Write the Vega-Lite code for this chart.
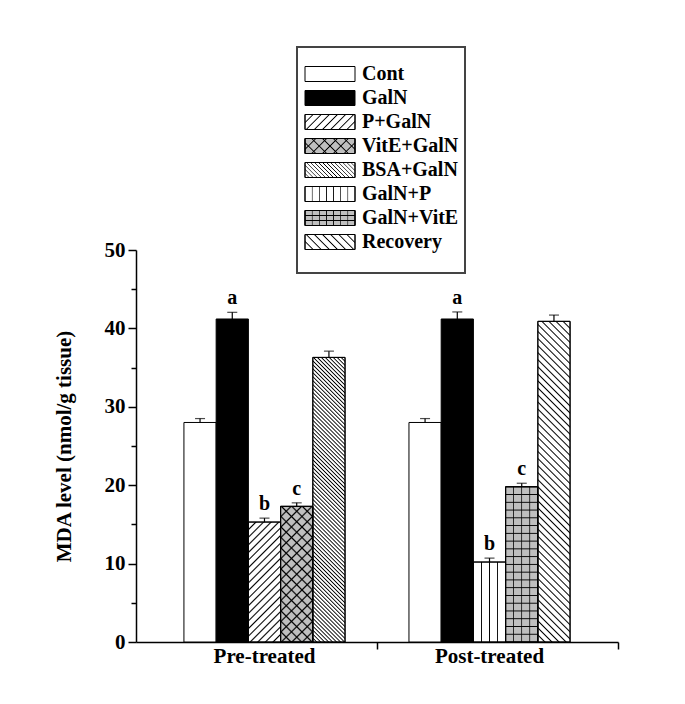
{
"$schema":"https://vega.github.io/schema/vega-lite/v6.json",
"width":482,"height":392,
"autosize":{"type":"none"},
"padding":{"left":136,"top":250,"right":67,"bottom":62},
"background":"white",
"config":{"view":{"stroke":null},"font":"Liberation Serif"},
"datasets":{
"bars":[
{"group":"Pre-treated","slot":1,"t":"Cont","v":28.0,"hi":28.5,"sig":""},
{"group":"Pre-treated","slot":2,"t":"GalN","v":41.2,"hi":42.05,"sig":"a"},
{"group":"Pre-treated","slot":3,"t":"P+GalN","v":15.3,"hi":15.8,"sig":"b"},
{"group":"Pre-treated","slot":4,"t":"VitE+GalN","v":17.3,"hi":17.75,"sig":"c"},
{"group":"Pre-treated","slot":5,"t":"BSA+GalN","v":36.3,"hi":37.1,"sig":""},
{"group":"Post-treated","slot":1,"t":"Cont","v":28.0,"hi":28.5,"sig":""},
{"group":"Post-treated","slot":2,"t":"GalN","v":41.2,"hi":42.1,"sig":"a"},
{"group":"Post-treated","slot":3,"t":"GalN+P","v":10.2,"hi":10.7,"sig":"b"},
{"group":"Post-treated","slot":4,"t":"GalN+VitE","v":19.8,"hi":20.25,"sig":"c"},
{"group":"Post-treated","slot":5,"t":"Recovery","v":40.9,"hi":41.7,"sig":""}
],
"leg":[{"t":"Cont"},{"t":"GalN"},{"t":"P+GalN"},{"t":"VitE+GalN"},{"t":"BSA+GalN"},{"t":"GalN+P"},{"t":"GalN+VitE"},{"t":"Recovery"}]
},
"layer":[
{
"data":{"name":"bars"},
"encoding":{
"x":{"field":"group","type":"nominal","sort":["Pre-treated","Post-treated"],"scale":{"paddingInner":0.284,"paddingOuter":0.213},
"axis":{"title":null,"ticks":false,"labelAngle":0,"labelFont":"Liberation Serif","labelFontSize":21,"labelFontWeight":"bold","labelColor":"black","labelPadding":3,"domainColor":"black","domainWidth":1.5}},
"xOffset":{"field":"slot","type":"ordinal","scale":{"paddingInner":0,"paddingOuter":0}},
"y":{"field":"v","type":"quantitative","scale":{"domain":[0,50],"nice":false},
"axis":{"values":[0,5,10,15,20,25,30,35,40,45,50],"labelExpr":"datum.value % 10 === 0 ? datum.label : ''","tickSize":{"condition":{"test":"datum.value % 10 === 0","value":8},"value":5},"grid":false,"domainColor":"black","domainWidth":1.5,"tickColor":"black","tickWidth":1.5,"labelFont":"Liberation Serif","labelFontSize":21,"labelFontWeight":"bold","labelColor":"black","labelPadding":3,"title":"MDA level (nmol/g tissue)","titleFont":"Liberation Serif","titleFontSize":21,"titleFontWeight":"bold","titleColor":"black","titlePadding":30}}
},
"layer":[
{"mark":{"type":"bar","stroke":"black","strokeWidth":1},
"encoding":{"fill":{"field":"t","type":"nominal","scale":{"domain":["Cont","GalN","P+GalN","VitE+GalN","BSA+GalN","GalN+P","GalN+VitE","Recovery"],"range":["#ffffff","#000000","#ffffff","#bfbfbf","#ffffff","#ffffff","#bfbfbf","#ffffff"]},"legend":null}}},
{"transform":[{"filter":"datum.t==='P+GalN'"}],
"mark":{"type":"bar","stroke":"black","strokeWidth":1,"fill":{"gradient":"linear","x1":0,"y1":0,"x2":0.3183,"y2":1.1834,"stops":[
{"offset":0.04,"color":"#0000"},{"offset":0.05,"color":"#000"},{"offset":0.06,"color":"#0000"},
{"offset":0.09,"color":"#0000"},{"offset":0.1,"color":"#000"},{"offset":0.11,"color":"#0000"},
{"offset":0.14,"color":"#0000"},{"offset":0.15,"color":"#000"},{"offset":0.16,"color":"#0000"},
{"offset":0.19,"color":"#0000"},{"offset":0.2,"color":"#000"},{"offset":0.21,"color":"#0000"},
{"offset":0.24,"color":"#0000"},{"offset":0.25,"color":"#000"},{"offset":0.26,"color":"#0000"},
{"offset":0.29,"color":"#0000"},{"offset":0.3,"color":"#000"},{"offset":0.31,"color":"#0000"},
{"offset":0.34,"color":"#0000"},{"offset":0.35,"color":"#000"},{"offset":0.36,"color":"#0000"},
{"offset":0.39,"color":"#0000"},{"offset":0.4,"color":"#000"},{"offset":0.41,"color":"#0000"},
{"offset":0.44,"color":"#0000"},{"offset":0.45,"color":"#000"},{"offset":0.46,"color":"#0000"},
{"offset":0.49,"color":"#0000"},{"offset":0.5,"color":"#000"},{"offset":0.51,"color":"#0000"},
{"offset":0.54,"color":"#0000"},{"offset":0.55,"color":"#000"},{"offset":0.56,"color":"#0000"},
{"offset":0.59,"color":"#0000"},{"offset":0.6,"color":"#000"},{"offset":0.61,"color":"#0000"},
{"offset":0.64,"color":"#0000"},{"offset":0.65,"color":"#000"},{"offset":0.66,"color":"#0000"},
{"offset":0.69,"color":"#0000"},{"offset":0.7,"color":"#000"},{"offset":0.71,"color":"#0000"},
{"offset":0.74,"color":"#0000"},{"offset":0.75,"color":"#000"},{"offset":0.76,"color":"#0000"},
{"offset":0.79,"color":"#0000"},{"offset":0.8,"color":"#000"},{"offset":0.81,"color":"#0000"},
{"offset":0.84,"color":"#0000"},{"offset":0.85,"color":"#000"},{"offset":0.86,"color":"#0000"},
{"offset":0.89,"color":"#0000"},{"offset":0.9,"color":"#000"},{"offset":0.91,"color":"#0000"},
{"offset":0.94,"color":"#0000"},{"offset":0.95,"color":"#000"},{"offset":0.96,"color":"#0000"}]}}},
{"transform":[{"filter":"datum.t==='VitE+GalN'"}],
"mark":{"type":"bar","stroke":"black","strokeWidth":1,"fill":{"gradient":"linear","x1":0,"y1":0,"x2":0.2782,"y2":1.1715,"stops":[
{"offset":0.0525,"color":"#0000"},{"offset":0.0625,"color":"#000"},{"offset":0.0725,"color":"#0000"},
{"offset":0.115,"color":"#0000"},{"offset":0.125,"color":"#000"},{"offset":0.135,"color":"#0000"},
{"offset":0.1775,"color":"#0000"},{"offset":0.1875,"color":"#000"},{"offset":0.1975,"color":"#0000"},
{"offset":0.24,"color":"#0000"},{"offset":0.25,"color":"#000"},{"offset":0.26,"color":"#0000"},
{"offset":0.3025,"color":"#0000"},{"offset":0.3125,"color":"#000"},{"offset":0.3225,"color":"#0000"},
{"offset":0.365,"color":"#0000"},{"offset":0.375,"color":"#000"},{"offset":0.385,"color":"#0000"},
{"offset":0.4275,"color":"#0000"},{"offset":0.4375,"color":"#000"},{"offset":0.4475,"color":"#0000"},
{"offset":0.49,"color":"#0000"},{"offset":0.5,"color":"#000"},{"offset":0.51,"color":"#0000"},
{"offset":0.5525,"color":"#0000"},{"offset":0.5625,"color":"#000"},{"offset":0.5725,"color":"#0000"},
{"offset":0.615,"color":"#0000"},{"offset":0.625,"color":"#000"},{"offset":0.635,"color":"#0000"},
{"offset":0.6775,"color":"#0000"},{"offset":0.6875,"color":"#000"},{"offset":0.6975,"color":"#0000"},
{"offset":0.74,"color":"#0000"},{"offset":0.75,"color":"#000"},{"offset":0.76,"color":"#0000"},
{"offset":0.8025,"color":"#0000"},{"offset":0.8125,"color":"#000"},{"offset":0.8225,"color":"#0000"},
{"offset":0.865,"color":"#0000"},{"offset":0.875,"color":"#000"},{"offset":0.885,"color":"#0000"},
{"offset":0.9275,"color":"#0000"},{"offset":0.9375,"color":"#000"},{"offset":0.9475,"color":"#0000"}]}}},
{"transform":[{"filter":"datum.t==='VitE+GalN'"}],
"mark":{"type":"bar","stroke":"black","strokeWidth":1,"fill":{"gradient":"linear","x1":0,"y1":1,"x2":0.2782,"y2":-0.1715,"stops":[
{"offset":0.0525,"color":"#0000"},{"offset":0.0625,"color":"#000"},{"offset":0.0725,"color":"#0000"},
{"offset":0.115,"color":"#0000"},{"offset":0.125,"color":"#000"},{"offset":0.135,"color":"#0000"},
{"offset":0.1775,"color":"#0000"},{"offset":0.1875,"color":"#000"},{"offset":0.1975,"color":"#0000"},
{"offset":0.24,"color":"#0000"},{"offset":0.25,"color":"#000"},{"offset":0.26,"color":"#0000"},
{"offset":0.3025,"color":"#0000"},{"offset":0.3125,"color":"#000"},{"offset":0.3225,"color":"#0000"},
{"offset":0.365,"color":"#0000"},{"offset":0.375,"color":"#000"},{"offset":0.385,"color":"#0000"},
{"offset":0.4275,"color":"#0000"},{"offset":0.4375,"color":"#000"},{"offset":0.4475,"color":"#0000"},
{"offset":0.49,"color":"#0000"},{"offset":0.5,"color":"#000"},{"offset":0.51,"color":"#0000"},
{"offset":0.5525,"color":"#0000"},{"offset":0.5625,"color":"#000"},{"offset":0.5725,"color":"#0000"},
{"offset":0.615,"color":"#0000"},{"offset":0.625,"color":"#000"},{"offset":0.635,"color":"#0000"},
{"offset":0.6775,"color":"#0000"},{"offset":0.6875,"color":"#000"},{"offset":0.6975,"color":"#0000"},
{"offset":0.74,"color":"#0000"},{"offset":0.75,"color":"#000"},{"offset":0.76,"color":"#0000"},
{"offset":0.8025,"color":"#0000"},{"offset":0.8125,"color":"#000"},{"offset":0.8225,"color":"#0000"},
{"offset":0.865,"color":"#0000"},{"offset":0.875,"color":"#000"},{"offset":0.885,"color":"#0000"},
{"offset":0.9275,"color":"#0000"},{"offset":0.9375,"color":"#000"},{"offset":0.9475,"color":"#0000"}]}}},
{"transform":[{"filter":"datum.t==='BSA+GalN'"}],
"mark":{"type":"bar","stroke":"black","strokeWidth":1,"fill":{"gradient":"linear","x1":0,"y1":1,"x2":0.1245,"y2":-0.0992,"stops":[
{"offset":0.0085,"color":"#0000"},{"offset":0.0125,"color":"#000"},{"offset":0.0165,"color":"#0000"},
{"offset":0.021,"color":"#0000"},{"offset":0.025,"color":"#000"},{"offset":0.029,"color":"#0000"},
{"offset":0.0335,"color":"#0000"},{"offset":0.0375,"color":"#000"},{"offset":0.0415,"color":"#0000"},
{"offset":0.046,"color":"#0000"},{"offset":0.05,"color":"#000"},{"offset":0.054,"color":"#0000"},
{"offset":0.0585,"color":"#0000"},{"offset":0.0625,"color":"#000"},{"offset":0.0665,"color":"#0000"},
{"offset":0.071,"color":"#0000"},{"offset":0.075,"color":"#000"},{"offset":0.079,"color":"#0000"},
{"offset":0.0835,"color":"#0000"},{"offset":0.0875,"color":"#000"},{"offset":0.0915,"color":"#0000"},
{"offset":0.096,"color":"#0000"},{"offset":0.1,"color":"#000"},{"offset":0.104,"color":"#0000"},
{"offset":0.1085,"color":"#0000"},{"offset":0.1125,"color":"#000"},{"offset":0.1165,"color":"#0000"},
{"offset":0.121,"color":"#0000"},{"offset":0.125,"color":"#000"},{"offset":0.129,"color":"#0000"},
{"offset":0.1335,"color":"#0000"},{"offset":0.1375,"color":"#000"},{"offset":0.1415,"color":"#0000"},
{"offset":0.146,"color":"#0000"},{"offset":0.15,"color":"#000"},{"offset":0.154,"color":"#0000"},
{"offset":0.1585,"color":"#0000"},{"offset":0.1625,"color":"#000"},{"offset":0.1665,"color":"#0000"},
{"offset":0.171,"color":"#0000"},{"offset":0.175,"color":"#000"},{"offset":0.179,"color":"#0000"},
{"offset":0.1835,"color":"#0000"},{"offset":0.1875,"color":"#000"},{"offset":0.1915,"color":"#0000"},
{"offset":0.196,"color":"#0000"},{"offset":0.2,"color":"#000"},{"offset":0.204,"color":"#0000"},
{"offset":0.2085,"color":"#0000"},{"offset":0.2125,"color":"#000"},{"offset":0.2165,"color":"#0000"},
{"offset":0.221,"color":"#0000"},{"offset":0.225,"color":"#000"},{"offset":0.229,"color":"#0000"},
{"offset":0.2335,"color":"#0000"},{"offset":0.2375,"color":"#000"},{"offset":0.2415,"color":"#0000"},
{"offset":0.246,"color":"#0000"},{"offset":0.25,"color":"#000"},{"offset":0.254,"color":"#0000"},
{"offset":0.2585,"color":"#0000"},{"offset":0.2625,"color":"#000"},{"offset":0.2665,"color":"#0000"},
{"offset":0.271,"color":"#0000"},{"offset":0.275,"color":"#000"},{"offset":0.279,"color":"#0000"},
{"offset":0.2835,"color":"#0000"},{"offset":0.2875,"color":"#000"},{"offset":0.2915,"color":"#0000"},
{"offset":0.296,"color":"#0000"},{"offset":0.3,"color":"#000"},{"offset":0.304,"color":"#0000"},
{"offset":0.3085,"color":"#0000"},{"offset":0.3125,"color":"#000"},{"offset":0.3165,"color":"#0000"},
{"offset":0.321,"color":"#0000"},{"offset":0.325,"color":"#000"},{"offset":0.329,"color":"#0000"},
{"offset":0.3335,"color":"#0000"},{"offset":0.3375,"color":"#000"},{"offset":0.3415,"color":"#0000"},
{"offset":0.346,"color":"#0000"},{"offset":0.35,"color":"#000"},{"offset":0.354,"color":"#0000"},
{"offset":0.3585,"color":"#0000"},{"offset":0.3625,"color":"#000"},{"offset":0.3665,"color":"#0000"},
{"offset":0.371,"color":"#0000"},{"offset":0.375,"color":"#000"},{"offset":0.379,"color":"#0000"},
{"offset":0.3835,"color":"#0000"},{"offset":0.3875,"color":"#000"},{"offset":0.3915,"color":"#0000"},
{"offset":0.396,"color":"#0000"},{"offset":0.4,"color":"#000"},{"offset":0.404,"color":"#0000"},
{"offset":0.4085,"color":"#0000"},{"offset":0.4125,"color":"#000"},{"offset":0.4165,"color":"#0000"},
{"offset":0.421,"color":"#0000"},{"offset":0.425,"color":"#000"},{"offset":0.429,"color":"#0000"},
{"offset":0.4335,"color":"#0000"},{"offset":0.4375,"color":"#000"},{"offset":0.4415,"color":"#0000"},
{"offset":0.446,"color":"#0000"},{"offset":0.45,"color":"#000"},{"offset":0.454,"color":"#0000"},
{"offset":0.4585,"color":"#0000"},{"offset":0.4625,"color":"#000"},{"offset":0.4665,"color":"#0000"},
{"offset":0.471,"color":"#0000"},{"offset":0.475,"color":"#000"},{"offset":0.479,"color":"#0000"},
{"offset":0.4835,"color":"#0000"},{"offset":0.4875,"color":"#000"},{"offset":0.4915,"color":"#0000"},
{"offset":0.496,"color":"#0000"},{"offset":0.5,"color":"#000"},{"offset":0.504,"color":"#0000"},
{"offset":0.5085,"color":"#0000"},{"offset":0.5125,"color":"#000"},{"offset":0.5165,"color":"#0000"},
{"offset":0.521,"color":"#0000"},{"offset":0.525,"color":"#000"},{"offset":0.529,"color":"#0000"},
{"offset":0.5335,"color":"#0000"},{"offset":0.5375,"color":"#000"},{"offset":0.5415,"color":"#0000"},
{"offset":0.546,"color":"#0000"},{"offset":0.55,"color":"#000"},{"offset":0.554,"color":"#0000"},
{"offset":0.5585,"color":"#0000"},{"offset":0.5625,"color":"#000"},{"offset":0.5665,"color":"#0000"},
{"offset":0.571,"color":"#0000"},{"offset":0.575,"color":"#000"},{"offset":0.579,"color":"#0000"},
{"offset":0.5835,"color":"#0000"},{"offset":0.5875,"color":"#000"},{"offset":0.5915,"color":"#0000"},
{"offset":0.596,"color":"#0000"},{"offset":0.6,"color":"#000"},{"offset":0.604,"color":"#0000"},
{"offset":0.6085,"color":"#0000"},{"offset":0.6125,"color":"#000"},{"offset":0.6165,"color":"#0000"},
{"offset":0.621,"color":"#0000"},{"offset":0.625,"color":"#000"},{"offset":0.629,"color":"#0000"},
{"offset":0.6335,"color":"#0000"},{"offset":0.6375,"color":"#000"},{"offset":0.6415,"color":"#0000"},
{"offset":0.646,"color":"#0000"},{"offset":0.65,"color":"#000"},{"offset":0.654,"color":"#0000"},
{"offset":0.6585,"color":"#0000"},{"offset":0.6625,"color":"#000"},{"offset":0.6665,"color":"#0000"},
{"offset":0.671,"color":"#0000"},{"offset":0.675,"color":"#000"},{"offset":0.679,"color":"#0000"},
{"offset":0.6835,"color":"#0000"},{"offset":0.6875,"color":"#000"},{"offset":0.6915,"color":"#0000"},
{"offset":0.696,"color":"#0000"},{"offset":0.7,"color":"#000"},{"offset":0.704,"color":"#0000"},
{"offset":0.7085,"color":"#0000"},{"offset":0.7125,"color":"#000"},{"offset":0.7165,"color":"#0000"},
{"offset":0.721,"color":"#0000"},{"offset":0.725,"color":"#000"},{"offset":0.729,"color":"#0000"},
{"offset":0.7335,"color":"#0000"},{"offset":0.7375,"color":"#000"},{"offset":0.7415,"color":"#0000"},
{"offset":0.746,"color":"#0000"},{"offset":0.75,"color":"#000"},{"offset":0.754,"color":"#0000"},
{"offset":0.7585,"color":"#0000"},{"offset":0.7625,"color":"#000"},{"offset":0.7665,"color":"#0000"},
{"offset":0.771,"color":"#0000"},{"offset":0.775,"color":"#000"},{"offset":0.779,"color":"#0000"},
{"offset":0.7835,"color":"#0000"},{"offset":0.7875,"color":"#000"},{"offset":0.7915,"color":"#0000"},
{"offset":0.796,"color":"#0000"},{"offset":0.8,"color":"#000"},{"offset":0.804,"color":"#0000"},
{"offset":0.8085,"color":"#0000"},{"offset":0.8125,"color":"#000"},{"offset":0.8165,"color":"#0000"},
{"offset":0.821,"color":"#0000"},{"offset":0.825,"color":"#000"},{"offset":0.829,"color":"#0000"},
{"offset":0.8335,"color":"#0000"},{"offset":0.8375,"color":"#000"},{"offset":0.8415,"color":"#0000"},
{"offset":0.846,"color":"#0000"},{"offset":0.85,"color":"#000"},{"offset":0.854,"color":"#0000"},
{"offset":0.8585,"color":"#0000"},{"offset":0.8625,"color":"#000"},{"offset":0.8665,"color":"#0000"},
{"offset":0.871,"color":"#0000"},{"offset":0.875,"color":"#000"},{"offset":0.879,"color":"#0000"},
{"offset":0.8835,"color":"#0000"},{"offset":0.8875,"color":"#000"},{"offset":0.8915,"color":"#0000"},
{"offset":0.896,"color":"#0000"},{"offset":0.9,"color":"#000"},{"offset":0.904,"color":"#0000"},
{"offset":0.9085,"color":"#0000"},{"offset":0.9125,"color":"#000"},{"offset":0.9165,"color":"#0000"},
{"offset":0.921,"color":"#0000"},{"offset":0.925,"color":"#000"},{"offset":0.929,"color":"#0000"},
{"offset":0.9335,"color":"#0000"},{"offset":0.9375,"color":"#000"},{"offset":0.9415,"color":"#0000"},
{"offset":0.946,"color":"#0000"},{"offset":0.95,"color":"#000"},{"offset":0.954,"color":"#0000"},
{"offset":0.9585,"color":"#0000"},{"offset":0.9625,"color":"#000"},{"offset":0.9665,"color":"#0000"},
{"offset":0.971,"color":"#0000"},{"offset":0.975,"color":"#000"},{"offset":0.979,"color":"#0000"},
{"offset":0.9835,"color":"#0000"},{"offset":0.9875,"color":"#000"},{"offset":0.9915,"color":"#0000"}]}}},
{"transform":[{"filter":"datum.t==='GalN+P'"}],
"mark":{"type":"bar","stroke":"black","strokeWidth":1,"fill":{"gradient":"linear","x1":0,"y1":0,"x2":1,"y2":0,"stops":[
{"offset":0.225,"color":"#0000"},{"offset":0.25,"color":"#000"},{"offset":0.275,"color":"#0000"},
{"offset":0.475,"color":"#0000"},{"offset":0.5,"color":"#000"},{"offset":0.525,"color":"#0000"},
{"offset":0.725,"color":"#0000"},{"offset":0.75,"color":"#000"},{"offset":0.775,"color":"#0000"}]}}},
{"transform":[{"filter":"datum.t==='GalN+VitE'"}],
"mark":{"type":"bar","stroke":"black","strokeWidth":1,"fill":{"gradient":"linear","x1":0,"y1":0,"x2":1,"y2":0,"stops":[
{"offset":0.225,"color":"#0000"},{"offset":0.25,"color":"#000"},{"offset":0.275,"color":"#0000"},
{"offset":0.475,"color":"#0000"},{"offset":0.5,"color":"#000"},{"offset":0.525,"color":"#0000"},
{"offset":0.725,"color":"#0000"},{"offset":0.75,"color":"#000"},{"offset":0.775,"color":"#0000"}]}}},
{"transform":[{"filter":"datum.t==='GalN+VitE'"}],
"mark":{"type":"bar","stroke":"black","strokeWidth":1,"fill":{"gradient":"linear","x1":0,"y1":0,"x2":0,"y2":1,"stops":[
{"offset":0.044,"color":"#0000"},{"offset":0.05,"color":"#000"},{"offset":0.056,"color":"#0000"},
{"offset":0.094,"color":"#0000"},{"offset":0.1,"color":"#000"},{"offset":0.106,"color":"#0000"},
{"offset":0.144,"color":"#0000"},{"offset":0.15,"color":"#000"},{"offset":0.156,"color":"#0000"},
{"offset":0.194,"color":"#0000"},{"offset":0.2,"color":"#000"},{"offset":0.206,"color":"#0000"},
{"offset":0.244,"color":"#0000"},{"offset":0.25,"color":"#000"},{"offset":0.256,"color":"#0000"},
{"offset":0.294,"color":"#0000"},{"offset":0.3,"color":"#000"},{"offset":0.306,"color":"#0000"},
{"offset":0.344,"color":"#0000"},{"offset":0.35,"color":"#000"},{"offset":0.356,"color":"#0000"},
{"offset":0.394,"color":"#0000"},{"offset":0.4,"color":"#000"},{"offset":0.406,"color":"#0000"},
{"offset":0.444,"color":"#0000"},{"offset":0.45,"color":"#000"},{"offset":0.456,"color":"#0000"},
{"offset":0.494,"color":"#0000"},{"offset":0.5,"color":"#000"},{"offset":0.506,"color":"#0000"},
{"offset":0.544,"color":"#0000"},{"offset":0.55,"color":"#000"},{"offset":0.556,"color":"#0000"},
{"offset":0.594,"color":"#0000"},{"offset":0.6,"color":"#000"},{"offset":0.606,"color":"#0000"},
{"offset":0.644,"color":"#0000"},{"offset":0.65,"color":"#000"},{"offset":0.656,"color":"#0000"},
{"offset":0.694,"color":"#0000"},{"offset":0.7,"color":"#000"},{"offset":0.706,"color":"#0000"},
{"offset":0.744,"color":"#0000"},{"offset":0.75,"color":"#000"},{"offset":0.756,"color":"#0000"},
{"offset":0.794,"color":"#0000"},{"offset":0.8,"color":"#000"},{"offset":0.806,"color":"#0000"},
{"offset":0.844,"color":"#0000"},{"offset":0.85,"color":"#000"},{"offset":0.856,"color":"#0000"},
{"offset":0.894,"color":"#0000"},{"offset":0.9,"color":"#000"},{"offset":0.906,"color":"#0000"},
{"offset":0.944,"color":"#0000"},{"offset":0.95,"color":"#000"},{"offset":0.956,"color":"#0000"}]}}},
{"transform":[{"filter":"datum.t==='Recovery'"}],
"mark":{"type":"bar","stroke":"black","strokeWidth":1,"fill":{"gradient":"linear","x1":0,"y1":1,"x2":0.1095,"y2":-0.0896,"stops":[
{"offset":0.016,"color":"#0000"},{"offset":0.02,"color":"#000"},{"offset":0.024,"color":"#0000"},
{"offset":0.036,"color":"#0000"},{"offset":0.04,"color":"#000"},{"offset":0.044,"color":"#0000"},
{"offset":0.056,"color":"#0000"},{"offset":0.06,"color":"#000"},{"offset":0.064,"color":"#0000"},
{"offset":0.076,"color":"#0000"},{"offset":0.08,"color":"#000"},{"offset":0.084,"color":"#0000"},
{"offset":0.096,"color":"#0000"},{"offset":0.1,"color":"#000"},{"offset":0.104,"color":"#0000"},
{"offset":0.116,"color":"#0000"},{"offset":0.12,"color":"#000"},{"offset":0.124,"color":"#0000"},
{"offset":0.136,"color":"#0000"},{"offset":0.14,"color":"#000"},{"offset":0.144,"color":"#0000"},
{"offset":0.156,"color":"#0000"},{"offset":0.16,"color":"#000"},{"offset":0.164,"color":"#0000"},
{"offset":0.176,"color":"#0000"},{"offset":0.18,"color":"#000"},{"offset":0.184,"color":"#0000"},
{"offset":0.196,"color":"#0000"},{"offset":0.2,"color":"#000"},{"offset":0.204,"color":"#0000"},
{"offset":0.216,"color":"#0000"},{"offset":0.22,"color":"#000"},{"offset":0.224,"color":"#0000"},
{"offset":0.236,"color":"#0000"},{"offset":0.24,"color":"#000"},{"offset":0.244,"color":"#0000"},
{"offset":0.256,"color":"#0000"},{"offset":0.26,"color":"#000"},{"offset":0.264,"color":"#0000"},
{"offset":0.276,"color":"#0000"},{"offset":0.28,"color":"#000"},{"offset":0.284,"color":"#0000"},
{"offset":0.296,"color":"#0000"},{"offset":0.3,"color":"#000"},{"offset":0.304,"color":"#0000"},
{"offset":0.316,"color":"#0000"},{"offset":0.32,"color":"#000"},{"offset":0.324,"color":"#0000"},
{"offset":0.336,"color":"#0000"},{"offset":0.34,"color":"#000"},{"offset":0.344,"color":"#0000"},
{"offset":0.356,"color":"#0000"},{"offset":0.36,"color":"#000"},{"offset":0.364,"color":"#0000"},
{"offset":0.376,"color":"#0000"},{"offset":0.38,"color":"#000"},{"offset":0.384,"color":"#0000"},
{"offset":0.396,"color":"#0000"},{"offset":0.4,"color":"#000"},{"offset":0.404,"color":"#0000"},
{"offset":0.416,"color":"#0000"},{"offset":0.42,"color":"#000"},{"offset":0.424,"color":"#0000"},
{"offset":0.436,"color":"#0000"},{"offset":0.44,"color":"#000"},{"offset":0.444,"color":"#0000"},
{"offset":0.456,"color":"#0000"},{"offset":0.46,"color":"#000"},{"offset":0.464,"color":"#0000"},
{"offset":0.476,"color":"#0000"},{"offset":0.48,"color":"#000"},{"offset":0.484,"color":"#0000"},
{"offset":0.496,"color":"#0000"},{"offset":0.5,"color":"#000"},{"offset":0.504,"color":"#0000"},
{"offset":0.516,"color":"#0000"},{"offset":0.52,"color":"#000"},{"offset":0.524,"color":"#0000"},
{"offset":0.536,"color":"#0000"},{"offset":0.54,"color":"#000"},{"offset":0.544,"color":"#0000"},
{"offset":0.556,"color":"#0000"},{"offset":0.56,"color":"#000"},{"offset":0.564,"color":"#0000"},
{"offset":0.576,"color":"#0000"},{"offset":0.58,"color":"#000"},{"offset":0.584,"color":"#0000"},
{"offset":0.596,"color":"#0000"},{"offset":0.6,"color":"#000"},{"offset":0.604,"color":"#0000"},
{"offset":0.616,"color":"#0000"},{"offset":0.62,"color":"#000"},{"offset":0.624,"color":"#0000"},
{"offset":0.636,"color":"#0000"},{"offset":0.64,"color":"#000"},{"offset":0.644,"color":"#0000"},
{"offset":0.656,"color":"#0000"},{"offset":0.66,"color":"#000"},{"offset":0.664,"color":"#0000"},
{"offset":0.676,"color":"#0000"},{"offset":0.68,"color":"#000"},{"offset":0.684,"color":"#0000"},
{"offset":0.696,"color":"#0000"},{"offset":0.7,"color":"#000"},{"offset":0.704,"color":"#0000"},
{"offset":0.716,"color":"#0000"},{"offset":0.72,"color":"#000"},{"offset":0.724,"color":"#0000"},
{"offset":0.736,"color":"#0000"},{"offset":0.74,"color":"#000"},{"offset":0.744,"color":"#0000"},
{"offset":0.756,"color":"#0000"},{"offset":0.76,"color":"#000"},{"offset":0.764,"color":"#0000"},
{"offset":0.776,"color":"#0000"},{"offset":0.78,"color":"#000"},{"offset":0.784,"color":"#0000"},
{"offset":0.796,"color":"#0000"},{"offset":0.8,"color":"#000"},{"offset":0.804,"color":"#0000"},
{"offset":0.816,"color":"#0000"},{"offset":0.82,"color":"#000"},{"offset":0.824,"color":"#0000"},
{"offset":0.836,"color":"#0000"},{"offset":0.84,"color":"#000"},{"offset":0.844,"color":"#0000"},
{"offset":0.856,"color":"#0000"},{"offset":0.86,"color":"#000"},{"offset":0.864,"color":"#0000"},
{"offset":0.876,"color":"#0000"},{"offset":0.88,"color":"#000"},{"offset":0.884,"color":"#0000"},
{"offset":0.896,"color":"#0000"},{"offset":0.9,"color":"#000"},{"offset":0.904,"color":"#0000"},
{"offset":0.916,"color":"#0000"},{"offset":0.92,"color":"#000"},{"offset":0.924,"color":"#0000"},
{"offset":0.936,"color":"#0000"},{"offset":0.94,"color":"#000"},{"offset":0.944,"color":"#0000"},
{"offset":0.956,"color":"#0000"},{"offset":0.96,"color":"#000"},{"offset":0.964,"color":"#0000"},
{"offset":0.976,"color":"#0000"},{"offset":0.98,"color":"#000"},{"offset":0.984,"color":"#0000"}]}}},
{"mark":{"type":"rule","color":"black","strokeWidth":1.2},"encoding":{"y":{"field":"v","type":"quantitative"},"y2":{"field":"hi"}}},
{"mark":{"type":"tick","color":"black","size":10,"thickness":1.2,"orient":"horizontal"},"encoding":{"y":{"field":"hi","type":"quantitative"}}},
{"transform":[{"filter":"datum.sig !== ''"}],"mark":{"type":"text","dy":-8,"baseline":"alphabetic","font":"Liberation Serif","fontSize":20,"fontWeight":"bold","color":"black"},"encoding":{"y":{"field":"hi","type":"quantitative"},"text":{"field":"sig"}}}
]
},
{
"data":{"values":[{"p":1},{"p":2}]},
"mark":{"type":"rule","strokeOpacity":0},
"encoding":{"x":{"field":"p","type":"quantitative","scale":{"domain":[0,2],"nice":false},"axis":{"orient":"bottom","values":[1,2],"labels":false,"domain":false,"grid":false,"ticks":true,"tickSize":7,"tickColor":"black","tickWidth":1.5,"title":null}}}
},
{
"data":{"name":"leg"},
"encoding":{"y":{"field":"t","type":"nominal","scale":{"domain":["Cont","GalN","P+GalN","VitE+GalN","BSA+GalN","GalN+P","GalN+VitE","Recovery"],"range":[-188,4],"paddingInner":0.375,"paddingOuter":0.1875},"axis":null}},
"layer":[
{"mark":{"type":"rect","stroke":"black","strokeWidth":1},
"encoding":{"x":{"datum":0,"type":"quantitative","scale":{"domain":[0,1],"range":[169,219],"nice":false},"axis":null},"x2":{"datum":1},
"fill":{"field":"t","type":"nominal","scale":{"domain":["Cont","GalN","P+GalN","VitE+GalN","BSA+GalN","GalN+P","GalN+VitE","Recovery"],"range":["#ffffff","#000000","#ffffff","#bfbfbf","#ffffff","#ffffff","#bfbfbf","#ffffff"]},"legend":null}}},
{"transform":[{"filter":"datum.t==='P+GalN'"}],
"mark":{"type":"rect","stroke":"black","strokeWidth":1,"fill":{"gradient":"linear","x1":0,"y1":0,"x2":1.1927,"y2":0.3578,"stops":[
{"offset":0.105,"color":"#0000"},{"offset":0.125,"color":"#000"},{"offset":0.145,"color":"#0000"},
{"offset":0.23,"color":"#0000"},{"offset":0.25,"color":"#000"},{"offset":0.27,"color":"#0000"},
{"offset":0.355,"color":"#0000"},{"offset":0.375,"color":"#000"},{"offset":0.395,"color":"#0000"},
{"offset":0.48,"color":"#0000"},{"offset":0.5,"color":"#000"},{"offset":0.52,"color":"#0000"},
{"offset":0.605,"color":"#0000"},{"offset":0.625,"color":"#000"},{"offset":0.645,"color":"#0000"},
{"offset":0.73,"color":"#0000"},{"offset":0.75,"color":"#000"},{"offset":0.77,"color":"#0000"},
{"offset":0.855,"color":"#0000"},{"offset":0.875,"color":"#000"},{"offset":0.895,"color":"#0000"}]}},
"encoding":{"x":{"datum":0,"type":"quantitative"},"x2":{"datum":1}}},
{"transform":[{"filter":"datum.t==='VitE+GalN'"}],
"mark":{"type":"rect","stroke":"black","strokeWidth":1,"fill":{"gradient":"linear","x1":0,"y1":0,"x2":1.1927,"y2":0.3578,"stops":[
{"offset":0.1467,"color":"#0000"},{"offset":0.1667,"color":"#000"},{"offset":0.1867,"color":"#0000"},
{"offset":0.3133,"color":"#0000"},{"offset":0.3333,"color":"#000"},{"offset":0.3533,"color":"#0000"},
{"offset":0.48,"color":"#0000"},{"offset":0.5,"color":"#000"},{"offset":0.52,"color":"#0000"},
{"offset":0.6467,"color":"#0000"},{"offset":0.6667,"color":"#000"},{"offset":0.6867,"color":"#0000"},
{"offset":0.8133,"color":"#0000"},{"offset":0.8333,"color":"#000"},{"offset":0.8533,"color":"#0000"}]}},
"encoding":{"x":{"datum":0,"type":"quantitative"},"x2":{"datum":1}}},
{"transform":[{"filter":"datum.t==='VitE+GalN'"}],
"mark":{"type":"rect","stroke":"black","strokeWidth":1,"fill":{"gradient":"linear","x1":0,"y1":1,"x2":1.1927,"y2":0.6422,"stops":[
{"offset":0.1467,"color":"#0000"},{"offset":0.1667,"color":"#000"},{"offset":0.1867,"color":"#0000"},
{"offset":0.3133,"color":"#0000"},{"offset":0.3333,"color":"#000"},{"offset":0.3533,"color":"#0000"},
{"offset":0.48,"color":"#0000"},{"offset":0.5,"color":"#000"},{"offset":0.52,"color":"#0000"},
{"offset":0.6467,"color":"#0000"},{"offset":0.6667,"color":"#000"},{"offset":0.6867,"color":"#0000"},
{"offset":0.8133,"color":"#0000"},{"offset":0.8333,"color":"#000"},{"offset":0.8533,"color":"#0000"}]}},
"encoding":{"x":{"datum":0,"type":"quantitative"},"x2":{"datum":1}}},
{"transform":[{"filter":"datum.t==='BSA+GalN'"}],
"mark":{"type":"rect","stroke":"black","strokeWidth":1,"fill":{"gradient":"linear","x1":0,"y1":1,"x2":1.1927,"y2":0.6422,"stops":[
{"offset":0.0505,"color":"#0000"},{"offset":0.0625,"color":"#000"},{"offset":0.0745,"color":"#0000"},
{"offset":0.113,"color":"#0000"},{"offset":0.125,"color":"#000"},{"offset":0.137,"color":"#0000"},
{"offset":0.1755,"color":"#0000"},{"offset":0.1875,"color":"#000"},{"offset":0.1995,"color":"#0000"},
{"offset":0.238,"color":"#0000"},{"offset":0.25,"color":"#000"},{"offset":0.262,"color":"#0000"},
{"offset":0.3005,"color":"#0000"},{"offset":0.3125,"color":"#000"},{"offset":0.3245,"color":"#0000"},
{"offset":0.363,"color":"#0000"},{"offset":0.375,"color":"#000"},{"offset":0.387,"color":"#0000"},
{"offset":0.4255,"color":"#0000"},{"offset":0.4375,"color":"#000"},{"offset":0.4495,"color":"#0000"},
{"offset":0.488,"color":"#0000"},{"offset":0.5,"color":"#000"},{"offset":0.512,"color":"#0000"},
{"offset":0.5505,"color":"#0000"},{"offset":0.5625,"color":"#000"},{"offset":0.5745,"color":"#0000"},
{"offset":0.613,"color":"#0000"},{"offset":0.625,"color":"#000"},{"offset":0.637,"color":"#0000"},
{"offset":0.6755,"color":"#0000"},{"offset":0.6875,"color":"#000"},{"offset":0.6995,"color":"#0000"},
{"offset":0.738,"color":"#0000"},{"offset":0.75,"color":"#000"},{"offset":0.762,"color":"#0000"},
{"offset":0.8005,"color":"#0000"},{"offset":0.8125,"color":"#000"},{"offset":0.8245,"color":"#0000"},
{"offset":0.863,"color":"#0000"},{"offset":0.875,"color":"#000"},{"offset":0.887,"color":"#0000"},
{"offset":0.9255,"color":"#0000"},{"offset":0.9375,"color":"#000"},{"offset":0.9495,"color":"#0000"}]}},
"encoding":{"x":{"datum":0,"type":"quantitative"},"x2":{"datum":1}}},
{"transform":[{"filter":"datum.t==='GalN+P'"}],
"mark":{"type":"rect","stroke":"black","strokeWidth":1,"fill":{"gradient":"linear","x1":0,"y1":0,"x2":1,"y2":0,"stops":[
{"offset":0.1289,"color":"#0000"},{"offset":0.1429,"color":"#000"},{"offset":0.1569,"color":"#0000"},
{"offset":0.2717,"color":"#0000"},{"offset":0.2857,"color":"#000"},{"offset":0.2997,"color":"#0000"},
{"offset":0.4146,"color":"#0000"},{"offset":0.4286,"color":"#000"},{"offset":0.4426,"color":"#0000"},
{"offset":0.5574,"color":"#0000"},{"offset":0.5714,"color":"#000"},{"offset":0.5854,"color":"#0000"},
{"offset":0.7003,"color":"#0000"},{"offset":0.7143,"color":"#000"},{"offset":0.7283,"color":"#0000"},
{"offset":0.8431,"color":"#0000"},{"offset":0.8571,"color":"#000"},{"offset":0.8711,"color":"#0000"}]}},
"encoding":{"x":{"datum":0,"type":"quantitative"},"x2":{"datum":1}}},
{"transform":[{"filter":"datum.t==='GalN+VitE'"}],
"mark":{"type":"rect","stroke":"black","strokeWidth":1,"fill":{"gradient":"linear","x1":0,"y1":0,"x2":1,"y2":0,"stops":[
{"offset":0.1289,"color":"#0000"},{"offset":0.1429,"color":"#000"},{"offset":0.1569,"color":"#0000"},
{"offset":0.2717,"color":"#0000"},{"offset":0.2857,"color":"#000"},{"offset":0.2997,"color":"#0000"},
{"offset":0.4146,"color":"#0000"},{"offset":0.4286,"color":"#000"},{"offset":0.4426,"color":"#0000"},
{"offset":0.5574,"color":"#0000"},{"offset":0.5714,"color":"#000"},{"offset":0.5854,"color":"#0000"},
{"offset":0.7003,"color":"#0000"},{"offset":0.7143,"color":"#000"},{"offset":0.7283,"color":"#0000"},
{"offset":0.8431,"color":"#0000"},{"offset":0.8571,"color":"#000"},{"offset":0.8711,"color":"#0000"}]}},
"encoding":{"x":{"datum":0,"type":"quantitative"},"x2":{"datum":1}}},
{"transform":[{"filter":"datum.t==='GalN+VitE'"}],
"mark":{"type":"rect","stroke":"black","strokeWidth":1,"fill":{"gradient":"linear","x1":0,"y1":0,"x2":0,"y2":1,"stops":[
{"offset":0.2883,"color":"#0000"},{"offset":0.3333,"color":"#000"},{"offset":0.3783,"color":"#0000"},
{"offset":0.6217,"color":"#0000"},{"offset":0.6667,"color":"#000"},{"offset":0.7117,"color":"#0000"}]}},
"encoding":{"x":{"datum":0,"type":"quantitative"},"x2":{"datum":1}}},
{"transform":[{"filter":"datum.t==='Recovery'"}],
"mark":{"type":"rect","stroke":"black","strokeWidth":1,"fill":{"gradient":"linear","x1":0,"y1":1,"x2":1.1927,"y2":0.6422,"stops":[
{"offset":0.105,"color":"#0000"},{"offset":0.125,"color":"#000"},{"offset":0.145,"color":"#0000"},
{"offset":0.23,"color":"#0000"},{"offset":0.25,"color":"#000"},{"offset":0.27,"color":"#0000"},
{"offset":0.355,"color":"#0000"},{"offset":0.375,"color":"#000"},{"offset":0.395,"color":"#0000"},
{"offset":0.48,"color":"#0000"},{"offset":0.5,"color":"#000"},{"offset":0.52,"color":"#0000"},
{"offset":0.605,"color":"#0000"},{"offset":0.625,"color":"#000"},{"offset":0.645,"color":"#0000"},
{"offset":0.73,"color":"#0000"},{"offset":0.75,"color":"#000"},{"offset":0.77,"color":"#0000"},
{"offset":0.855,"color":"#0000"},{"offset":0.875,"color":"#000"},{"offset":0.895,"color":"#0000"}]}},
"encoding":{"x":{"datum":0,"type":"quantitative"},"x2":{"datum":1}}},
{"mark":{"type":"text","align":"left","baseline":"middle","dx":7,"font":"Liberation Serif","fontSize":20,"fontWeight":"bold","color":"black"},
"encoding":{"x":{"datum":1,"type":"quantitative"},"text":{"field":"t"}}}
]
},
{
"data":{"values":[{"box":"legend"}]},
"mark":{"type":"rect","fill":"transparent","stroke":"#444444","strokeWidth":2},
"encoding":{"x":{"datum":0,"type":"quantitative","scale":{"domain":[0,1],"range":[161,329],"nice":false},"axis":null},"x2":{"datum":1},
"y":{"datum":0,"type":"quantitative","scale":{"domain":[0,1],"range":[23,-203],"nice":false},"axis":null},"y2":{"datum":1}}
}
],
"resolve":{"scale":{"x":"independent","y":"independent"},"axis":{"x":"independent","y":"independent"}}
}
